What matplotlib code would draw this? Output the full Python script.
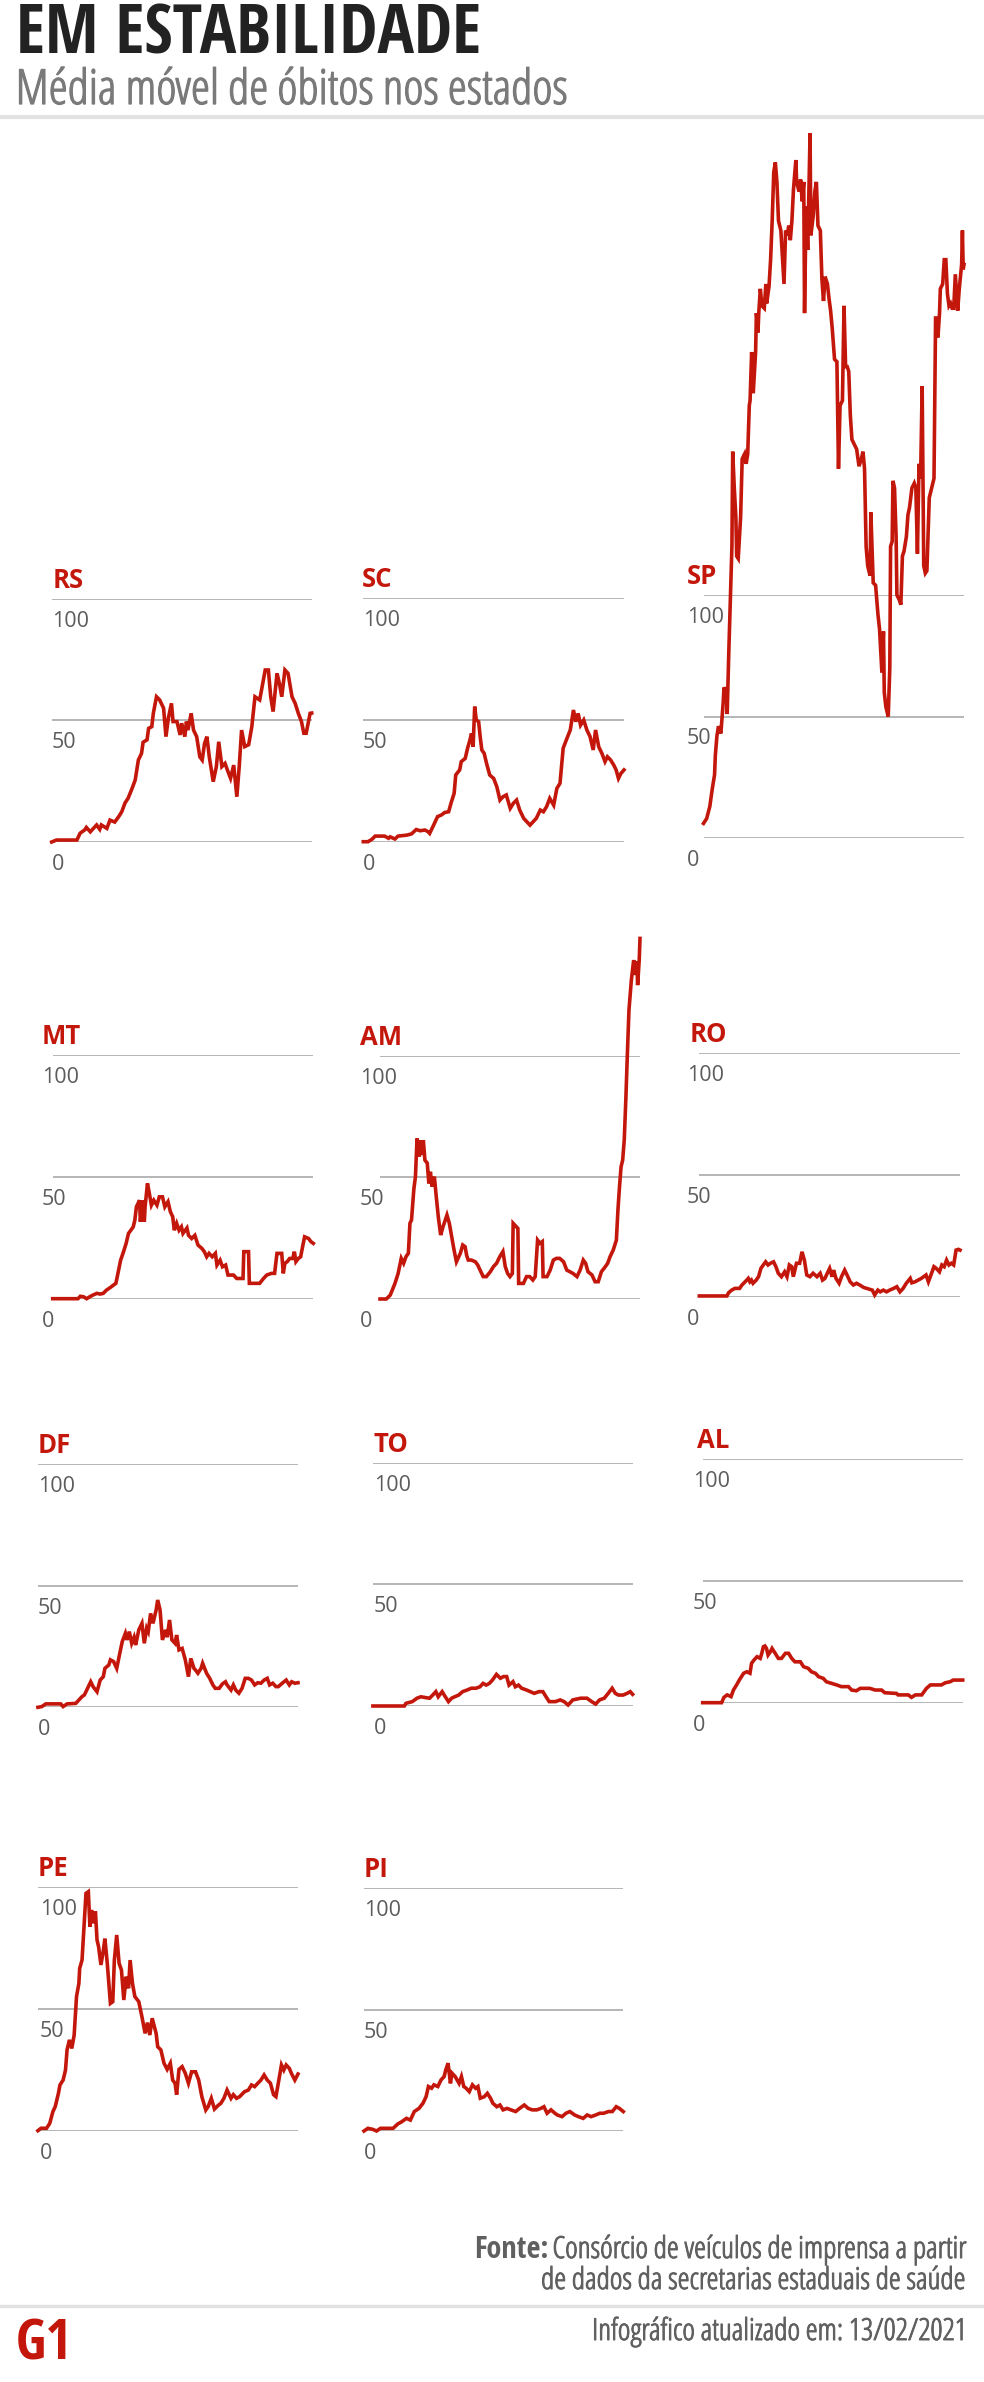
import matplotlib
matplotlib.use("Agg")
import matplotlib.pyplot as plt
import matplotlib.font_manager as fm
import matplotlib.patheffects as pe
from matplotlib.textpath import TextPath

# moving average of deaths (day 0 ~ mid March 2020, day 330 = 13/02/2021)
rs_days = [0, 6, 32, 36, 42, 44, 49, 57, 61, 63, 70, 74, 80, 85, 89, 93, 97, 102, 106, 110, 114, 116,
           121, 123, 127, 129, 133, 137, 142, 145, 148, 152, 154, 159, 163, 165, 169, 171, 173, 177,
           180, 184, 188, 191, 194, 197, 200, 205, 209, 212, 216, 220, 223, 227, 231, 235, 238, 241,
           245, 250, 254, 258, 264, 271, 275, 278, 281, 286, 289, 292, 296, 300, 305, 309, 313, 317,
           320, 323, 328, 330]
rs_vals = [0, 0.8, 0.8, 3.6, 5, 6, 4.2, 7, 5.2, 7, 5.6, 9, 8.2, 10.4, 12.5, 16, 18, 22, 25.5, 33.7,
           36.4, 41, 42, 46.7, 47.4, 52.9, 59.7, 58.4, 55, 43.3, 50.8, 57, 49.5, 49.5, 44, 48.8, 43.3,
           49.5, 46, 52.9, 46, 43.3, 35, 33.7, 40.5, 43.3, 35, 24.8, 31, 41.2, 31, 32.3, 29.6, 26.2,
           31.6, 18.6, 31, 46, 39.2, 40, 47.4, 59.7, 58.4, 70.7, 70.7, 59.7, 53.6, 69.3, 65.2, 59.7,
           70.7, 69.3, 59.7, 57, 52.9, 49.5, 44.7, 44.7, 52.9, 53]

sc_days = [0, 6, 11, 15, 27, 32, 34, 40, 44, 55, 61, 67, 72, 78, 82, 84, 89, 94, 99, 103, 108, 111,
           115, 117, 122, 124, 129, 132, 135, 137, 139, 141, 143, 146, 148, 150, 153, 156, 160, 165,
           169, 173, 177, 181, 186, 190, 194, 198, 203, 207, 211, 215, 219, 224, 228, 232, 236, 241,
           245, 249, 253, 257, 262, 266, 269, 272, 275, 279, 283, 287, 291, 294, 298, 302, 306, 309,
           313, 317, 320, 323, 326, 330]
sc_vals = [0, 0, 1, 2.3, 2.3, 1.4, 2, 1.1, 2.3, 2.7, 3.2, 5, 4.5, 4.8, 4.1, 3.4, 6.8, 10.3, 11, 12,
           12.3, 15.8, 19.9, 27.4, 29.5, 32.9, 34.2, 38.4, 41.8, 44.5, 39, 55.5, 50, 49.3, 43, 37.7,
           36.3, 32.2, 27.4, 26, 22.6, 17.1, 18.5, 19.2, 13.7, 15.8, 17.1, 13, 9.6, 8.2, 6.8, 8.2, 9.6,
           13, 12.3, 14.4, 17.8, 15, 21.9, 24, 38.4, 41.8, 45.9, 54.1, 49.3, 52.7, 47.9, 50, 45.9,
           43.2, 37.7, 45.9, 39, 36.3, 32.9, 34.9, 33.6, 31.5, 29.5, 26, 28, 29.5]

sp_days = [0, 4, 8, 11, 14, 15, 17, 19, 22, 25, 26, 29, 30, 32, 34, 36, 37, 39, 41, 42, 44, 47, 49,
           52, 54, 56, 58, 59, 61, 63, 66, 67, 69, 70, 72, 74, 77, 79, 80, 83, 85, 87, 89, 91, 93,
           95, 98, 102, 104, 106, 108, 110, 112, 114, 117, 118, 121, 123, 125, 127, 128, 130, 132,
           135, 136, 139, 141, 143, 145, 148, 150, 152, 154, 157, 159, 161, 163, 166, 169, 171, 173,
           176, 178, 180, 182, 184, 186, 188, 191, 194, 197, 200, 202, 204, 206, 208, 211, 212, 215,
           218, 221, 223, 226, 228, 229, 231, 234, 236, 237, 239, 240, 242, 244, 245, 248, 250, 252,
           254, 257, 259, 261, 264, 267, 269, 271, 273, 275, 277, 279, 281, 283, 286, 289, 292, 294,
           296, 297, 299, 300, 303, 305, 307, 309, 311, 313, 315, 317, 319, 322, 324, 327, 328, 329,
           330]
sp_vals = [6, 8, 13, 20, 26, 34, 42, 46, 43, 56, 62, 60, 51, 76, 98, 120, 159, 144, 132, 116, 115,
           132, 156, 158, 154, 158, 178, 180, 200, 183, 200, 216, 208, 216, 226, 219, 218, 228, 220,
           227, 238, 254, 274, 278, 270, 254, 250, 228, 250, 248, 252, 246, 254, 267, 279, 270, 266,
           271, 262, 270, 216, 260, 242, 290, 248, 256, 266, 270, 252, 250, 230, 221, 231, 228, 222,
           217, 210, 197, 196, 152, 178, 180, 219, 194, 194, 192, 174, 164, 162, 160, 153, 156, 159,
           152, 120, 112, 108, 134, 105, 104, 92, 86, 68, 85, 60, 54, 50, 70, 120, 122, 147, 144, 124,
           100, 98, 96, 116, 118, 124, 133, 136, 144, 146, 144, 117, 154, 148, 186, 112, 109, 110,
           140, 144, 148, 214, 214, 206, 216, 226, 228, 238, 238, 224, 219, 220, 218, 218, 232, 217,
           226, 236, 250, 234, 236]

mt_days = [0, 32, 35, 39, 43, 47, 51, 56, 60, 64, 68, 73, 77, 80, 83, 86, 89, 93, 96, 99, 102, 104,
           106, 110, 111, 114, 116, 117, 120, 122, 125, 128, 132, 135, 139, 142, 146, 149, 152, 154,
           157, 160, 163, 165, 170, 172, 176, 180, 184, 189, 192, 195, 198, 202, 206, 208, 212, 215,
           219, 222, 229, 233, 241, 242, 248, 249, 262, 267, 271, 277, 281, 284, 286, 290, 292, 294,
           297, 300, 304, 306, 308, 311, 314, 316, 319, 324, 327, 330]
mt_vals = [0, 0, 1, 0.8, 0, 0.8, 1.5, 2.2, 1.9, 2.2, 3.5, 4.6, 5.6, 6.3, 11, 15.8, 18.6, 22.7, 26.8,
           28.1, 29.5, 32.2, 37.7, 40.4, 31.6, 40.4, 31.6, 37.7, 47.3, 43.9, 38.4, 40.4, 38.4, 41.8,
           41.8, 37.7, 39.8, 35.7, 33.6, 28.1, 30.9, 28.1, 29.5, 26.8, 29, 26, 24.7, 26, 22, 20.6,
           19.3, 17.2, 18.6, 17.2, 18.6, 13.8, 15.8, 13.1, 13.8, 9.7, 9.7, 8.3, 8.3, 19.3, 19.3, 6.3,
           6.3, 8.3, 9.7, 10.4, 10.4, 18.6, 18.6, 18.6, 10.4, 14.5, 15.2, 16.5, 16.5, 19.3, 15.2,
           16.5, 17.2, 20.6, 25.4, 24.7, 23.4, 22.7]

am_days = [0, 8, 13, 19, 23, 27, 30, 33, 36, 38, 40, 43, 45, 47, 50, 52, 53, 55, 57, 60, 62, 64, 66,
           69, 71, 74, 77, 80, 85, 88, 91, 94, 97, 99, 102, 105, 108, 110, 112, 116, 121, 124, 127,
           131, 135, 140, 144, 148, 152, 156, 159, 162, 165, 168, 169, 171, 175, 176, 182, 186, 190,
           194, 197, 200, 203, 206, 207, 212, 216, 220, 224, 228, 233, 237, 241, 245, 250, 254, 258,
           261, 264, 269, 273, 277, 281, 286, 289, 292, 296, 300, 302, 304, 306, 308, 310, 312, 314,
           316, 319, 321, 322, 324, 326, 327, 329, 330]
am_vals = [0, 0, 1.6, 6.4, 10.5, 16.7, 14.7, 17.4, 18.8, 31.1, 32.5, 45.3, 50.3, 66, 58.5, 65.3,
           59.2, 65.3, 57.1, 55.8, 47.5, 52.3, 46.2, 50.3, 43.4, 33.8, 26.3, 29.7, 34.5, 31.1, 25.6,
           20.1, 15.3, 16.7, 18.8, 22.2, 21.5, 17.9, 16, 16, 15.3, 14, 11.9, 9.2, 9.2, 11.2, 13.3,
           14.7, 17.4, 19.5, 13.3, 10.5, 9.2, 10.5, 31.1, 30.4, 29, 6.4, 6.4, 9.2, 9.2, 7.8, 9.2,
           24.2, 22.9, 23.6, 9.2, 9.2, 11.9, 16, 16.7, 16.7, 15.3, 11.9, 11.2, 10.5, 9.2, 11.9, 16,
           14.7, 11.2, 9.9, 7.1, 7.1, 11.2, 13.3, 14.7, 17.4, 20.1, 24.2, 36.6, 46.2, 54.4, 57.1,
           65.3, 81.8, 101, 118.8, 131, 136.6, 139.3, 133.2, 138.8, 129, 139.3, 148.2]

ro_days = [0, 35, 37, 41, 45, 51, 54, 58, 62, 64, 66, 68, 72, 75, 78, 81, 84, 87, 90, 94, 97, 100,
           104, 108, 111, 114, 117, 119, 123, 127, 130, 133, 136, 140, 144, 149, 153, 156, 159, 162,
           165, 168, 170, 173, 177, 180, 184, 187, 191, 195, 199, 203, 208, 212, 216, 219, 222, 226,
           229, 233, 237, 241, 246, 250, 254, 258, 262, 267, 269, 273, 277, 281, 284, 287, 290, 294,
           297, 300, 304, 307, 310, 313, 316, 319, 322, 325, 328, 330]
ro_vals = [0.3, 0.3, 1.6, 2.7, 3.4, 3.4, 4.8, 6.1, 7.5, 6.1, 6.8, 5.5, 6.8, 8.2, 11.6, 13, 14.3, 13,
           13.7, 14.3, 12.3, 9.6, 8.2, 10.2, 8.2, 13, 12.3, 8.2, 13.7, 13.7, 18.4, 15, 8.9, 8.2, 9.6,
           8.2, 9.6, 6.8, 7.5, 9.6, 11.6, 8.2, 10.9, 7.5, 5.5, 8.2, 10.9, 8.9, 6.1, 4.8, 5.5, 4.8,
           3.8, 3.4, 3, 2.7, 0.7, 2.7, 2, 2.7, 2, 2.7, 3.4, 4.1, 2, 3.4, 5.5, 7.5, 5.7, 6.1, 6.8, 7.5,
           8.2, 8.9, 6.1, 9.6, 12.3, 11.6, 10.2, 13, 12.3, 15, 13, 13.7, 13, 19.1, 19.4, 19.1]

df_days = [0, 5, 10, 29, 32, 37, 48, 52, 56, 59, 62, 67, 70, 75, 79, 83, 85, 90, 92, 96, 100, 103,
           107, 111, 113, 116, 119, 122, 124, 128, 132, 135, 138, 140, 143, 146, 150, 152, 155, 158,
           162, 164, 167, 170, 174, 176, 179, 183, 187, 191, 194, 198, 200, 203, 207, 209, 214, 218,
           222, 225, 230, 234, 238, 240, 245, 248, 251, 255, 259, 263, 267, 271, 275, 279, 283, 287,
           291, 294, 298, 302, 305, 310, 315, 319, 322, 326, 330]
df_vals = [0, 0.3, 1.4, 1.4, 0.3, 1.4, 1.6, 3, 4.4, 5.1, 7.1, 10.5, 8.5, 6.4, 11.2, 12.6, 16, 17.4,
           19.5, 18.8, 16, 20.8, 27, 30.4, 27.7, 31.1, 26.3, 28.8, 25.6, 31.8, 34.5, 26.3, 32.5, 31.1,
           38.6, 34.5, 40, 44.1, 40, 27.7, 31.8, 28.8, 35.9, 27.7, 26.3, 29.7, 23.6, 24.2, 19.5, 12.6,
           20.1, 16, 15.3, 14, 16, 18.1, 14, 11.9, 9.2, 7.8, 7.8, 9.6, 10.5, 9.2, 7.1, 9.2, 7.1, 5.8,
           7.8, 11.9, 11.9, 11.2, 9.2, 10.1, 9.9, 11.2, 11.9, 9.2, 9.9, 8.5, 8.5, 9.9, 11.2, 9.2,
           10.5, 9.9, 10.1]

to_days = [0, 40, 42, 50, 56, 61, 66, 72, 76, 80, 83, 88, 92, 96, 100, 104, 109, 114, 120, 125, 131,
           136, 140, 144, 148, 152, 157, 162, 166, 170, 173, 178, 181, 185, 189, 195, 200, 205, 211,
           216, 220, 224, 232, 238, 243, 248, 254, 264, 272, 278, 283, 288, 294, 299, 304, 308, 312,
           318, 323, 327, 330]
to_vals = [0, 0, 1.1, 1.8, 3.2, 3.8, 3.5, 3.2, 4.5, 5.9, 3.8, 5.9, 3.8, 1.8, 3.2, 3.8, 4.5, 5.9, 6.6,
           7.3, 7.3, 7.9, 9.3, 8.6, 9.3, 10.7, 13, 11.4, 12.1, 12.1, 8.6, 10, 7.9, 8.6, 7.3, 6.6, 5.9,
           5.2, 5.9, 5.9, 3.8, 1.8, 1.8, 2.5, 1.8, 0.4, 2.5, 3.2, 3.2, 1.8, 0.8, 2.5, 3.2, 5.2, 7.3,
           5.2, 4.5, 4.5, 5.2, 5.9, 4.8]

al_days = [0, 24, 27, 31, 36, 39, 43, 47, 52, 56, 60, 62, 65, 69, 73, 75, 77, 79, 81, 83, 86, 88,
           92, 96, 100, 105, 109, 113, 117, 124, 128, 134, 138, 143, 147, 153, 157, 164, 170, 176,
           185, 189, 195, 200, 212, 219, 227, 231, 246, 248, 261, 265, 270, 278, 280, 284, 289, 303,
           308, 314, 318, 330]
al_vals = [0, 0, 2.2, 3.2, 2.5, 5.2, 7.3, 9.6, 12.1, 12.7, 12.1, 16.2, 17.5, 18.9, 18.2, 20.3, 23,
           23.3, 22.3, 19.6, 21, 22.3, 20.3, 18.2, 18.2, 20.3, 20.3, 18.2, 16.8, 16.8, 14.8, 14.1,
           12.7, 12.1, 10.7, 10, 8.6, 7.9, 7.3, 6.6, 6.6, 5.2, 4.9, 5.9, 5.9, 5.2, 5.2, 4.1, 3.8,
           3.2, 3.2, 2.2, 3.2, 3.2, 4.1, 5.9, 7.3, 7.3, 8.2, 8.6, 9.3, 9.3]

pe_days = [0, 4, 11, 15, 19, 22, 26, 28, 32, 35, 37, 40, 43, 46, 49, 52, 53, 56, 59, 61, 64, 66, 68,
           70, 73, 75, 77, 80, 83, 85, 88, 92, 95, 97, 100, 103, 106, 109, 112, 115, 117, 120, 123,
           128, 132, 136, 139, 142, 145, 150, 152, 156, 160, 164, 168, 171, 174, 176, 179, 183, 187,
           191, 195, 200, 204, 208, 213, 216, 220, 224, 229, 232, 236, 240, 245, 248, 252, 256, 262,
           267, 271, 275, 279, 283, 287, 291, 295, 299, 302, 305, 309, 312, 315, 319, 322, 326, 330]
pe_vals = [0, 1, 1, 3, 7.8, 9.9, 15.3, 18.8, 20.8, 24.9, 33.2, 37.3, 33.8, 39.3, 55.1, 60.5, 66.7,
           70.1, 86.6, 97.5, 98.2, 83.8, 90.7, 85.2, 90.1, 78.4, 75.6, 68.1, 74, 78.9, 68.8, 52.3, 53,
           70.1, 80.4, 68.8, 66, 53.7, 63.3, 58.5, 70.1, 60.5, 55.1, 53, 46.8, 40, 44.4, 39.3, 46.2,
           40, 34.5, 33.2, 27.7, 25.2, 27.7, 20.8, 19.5, 14.8, 25.2, 26.3, 23.6, 19.5, 24.2, 24.2,
           20.8, 14, 8.5, 9.9, 13.3, 8.9, 10.5, 11.2, 13.3, 16.7, 13.3, 14.8, 13.3, 14, 16, 16.7,
           18.8, 18.1, 19.5, 20.8, 22.9, 20.8, 19.5, 14.8, 14, 19.5, 27, 24.9, 27, 25.6, 23.3, 20.8,
           23.3]

pi_days = [0, 5, 11, 16, 21, 29, 37, 43, 48, 54, 59, 64, 70, 75, 79, 82, 86, 89, 94, 98, 102, 104,
           107, 110, 112, 116, 121, 124, 127, 130, 134, 138, 142, 145, 148, 153, 157, 161, 164, 169,
           173, 177, 182, 187, 193, 198, 204, 209, 214, 220, 225, 229, 233, 238, 243, 246, 252, 257,
           262, 268, 273, 279, 284, 289, 295, 300, 305, 311, 316, 321, 325, 330]
pi_vals = [0, 1.1, 0.7, 0, 1.1, 1.1, 1.1, 2.9, 3.8, 5.2, 4.5, 8, 9.3, 11.4, 14.1, 18.3, 17.6, 19,
           18.3, 21, 22.4, 25.1, 27.9, 19.6, 23.8, 22.4, 19.6, 22.4, 18.3, 17.6, 16.2, 19, 17.6, 18.3,
           13.5, 14.1, 15.5, 13.5, 11.4, 10, 10.7, 8.7, 9.3, 8.7, 8, 9.3, 10.7, 9.3, 8.7, 8.7, 9.3,
           10, 7.3, 8.7, 7.3, 6.6, 5.9, 7.3, 8, 6.6, 5.9, 5.2, 6.6, 5.9, 6.6, 7.3, 7.3, 8, 8, 10, 9.3, 8]

states = ["RS", "SC", "SP", "MT", "AM", "RO", "DF", "TO", "AL", "PE", "PI"]
series = {"RS": (rs_days, rs_vals), "SC": (sc_days, sc_vals), "SP": (sp_days, sp_vals),
          "MT": (mt_days, mt_vals), "AM": (am_days, am_vals), "RO": (ro_days, ro_vals),
          "DF": (df_days, df_vals), "TO": (to_days, to_vals), "AL": (al_days, al_vals),
          "PE": (pe_days, pe_vals), "PI": (pi_days, pi_vals)}
gridvals = [0, 50, 100]

# layout in pixels: label x, tick x, grid x0, grid x1, y of the 100 line, y of the 0 line
layout = {
    "RS": (53, 52, 51.7, 311.7, 598.7, 842),
    "SC": (362, 363, 363.3, 624, 598.3, 841.7),
    "SP": (686.7, 686.7, 703.5, 964, 595, 838),
    "MT": (41.7, 41.7, 52.7, 313.3, 1055, 1298.7),
    "AM": (360, 360, 380, 640, 1055.7, 1299),
    "RO": (690, 686.7, 699.3, 960, 1052.7, 1296.7),
    "DF": (37.9, 37.9, 37.9, 298, 1464, 1707.3),
    "TO": (373.7, 373.7, 372.9, 632.6, 1462.7, 1706),
    "AL": (696.7, 692.7, 702.7, 962.7, 1459.3, 1702.7),
    "PE": (37.9, 40, 37.9, 298, 1887.3, 2130.7),
    "PI": (364, 364, 364, 623.3, 1888, 2131),
}

W, H = 984, 2382
RED = "#c4170c"
GRID = "#b0b0b0"
TICKC = "#5c5c5c"

WEIGHTS = {"ultralight": 200, "light": 300, "normal": 400, "regular": 400, "book": 400,
           "medium": 500, "semibold": 600, "demibold": 600, "bold": 700, "heavy": 800,
           "extra bold": 800, "black": 900}


def narrow_face(bold):
    """Look for a condensed / narrow face of the wanted weight, return FontProperties."""
    found = []
    for f in fm.fontManager.ttflist:
        narrow = ("Condensed" in f.name or "Narrow" in f.name
                  or str(f.stretch) in ("condensed", "semi-condensed", "extra-condensed"))
        if not narrow or f.style != "normal":
            continue
        w = f.weight if isinstance(f.weight, int) else WEIGHTS.get(str(f.weight), 400)
        if bold and w < 600:
            continue
        if not bold and w > 450:
            continue
        rank = 0 if "Open Sans" in f.name else 1
        found.append((rank, abs(w - (700 if bold else 400)), f.fname))
    if found:
        found.sort()
        return fm.FontProperties(fname=found[0][2])
    return fm.FontProperties(family="Open Sans", weight="bold" if bold else "normal")


NARROW_B = narrow_face(True)
NARROW_R = narrow_face(False)

fig = plt.figure(figsize=(W / 100, H / 100), dpi=100)
fig.patch.set_facecolor("white")
renderer = fig.canvas.get_renderer()


def fx(x):
    return x / W


def fy(y):
    return 1 - y / H


def size_for_width(t, width_px):
    w = t.get_window_extent(renderer).width
    return t.get_fontsize() * width_px / w


def size_for_cap(fp, cap_px):
    # cap height of "H" per point of font size, measured on the glyph outline
    frac = TextPath((0, 0), "H", prop=fp, size=100).get_extents().height / 100
    return cap_px * 0.72 / frac


def fit_both(t, width_px, cap_px, k=0.7):
    # compromise between matching the reference width (weight k) and its letter height
    s_w = size_for_width(t, width_px)
    s_c = size_for_cap(t.get_fontproperties(), cap_px)
    t.set_fontsize(s_w ** k * s_c ** (1 - k))
    return t


def thicker(color, lw=0.7):
    # light condensed face is thinner than the reference, give it a bit of body
    return [pe.withStroke(linewidth=lw, foreground=color)]


# header
title = fig.text(fx(15.7), fy(54), "EM ESTABILIDADE", fontproperties=NARROW_B.copy(),
                 color="#222222", va="baseline", ha="left")
title.set_fontsize(38)
title.set_fontsize(size_for_width(title, 467))
SUBC = "#7a7a7a"
sub = fig.text(fx(15.7), fy(104), "Média móvel de óbitos nos estados",
               fontproperties=NARROW_R.copy(), color=SUBC, va="baseline", ha="left",
               path_effects=thicker(SUBC, 0.9))
sub.set_fontsize(25)
fit_both(sub, 637, 25)
fig.add_artist(plt.Line2D([0, 1], [fy(116.7)] * 2, color="#e2e2e2", lw=3, transform=fig.transFigure))

# panels
for st in states:
    lab_x, tick_x, x0, x1, y100, y0 = layout[st]
    ax = fig.add_axes([fx(x0), fy(y0), (x1 - x0) / W, (y0 - y100) / H])
    ax.set_xlim(0, 330)
    ax.set_ylim(0, 100)
    ax.axis("off")
    for g in gridvals:
        ax.axhline(g, color=GRID, lw=1.3, zorder=1)
        fig.text(fx(tick_x), fy(y0 - (y0 - y100) * g / 100 + 28), str(g), fontsize=15.5,
                 family="Open Sans", color=TICKC, va="baseline", ha="left")
    fig.text(fx(lab_x), fy(y100 - 11), st, fontsize=18.5, family="Open Sans", fontweight="bold",
             color=RED, va="baseline", ha="left")
    d, v = series[st]
    ax.plot(d, v, color=RED, lw=2.6, clip_on=False, zorder=3, solid_joinstyle="miter")

# footer
FOOTC = "#606060"
l2 = fig.text(fx(966.7), fy(2289), "de dados da secretarias estaduais de saúde",
              fontproperties=NARROW_R.copy(), color=FOOTC, va="baseline", ha="right",
              path_effects=thicker(FOOTC))
l2.set_fontsize(17)
fit_both(l2, 490, 16.7, k=0.65)
fs = l2.get_fontsize()
l1 = fig.text(fx(966.7), fy(2258), "Consórcio de veículos de imprensa a partir",
              fontproperties=NARROW_R.copy(), color=FOOTC, va="baseline", ha="right",
              path_effects=thicker(FOOTC))
l1.set_fontsize(fs)
w1 = l1.get_window_extent(renderer).width
fonte = fig.text(fx(966.7 - w1 - 4), fy(2258), "Fonte:", fontproperties=NARROW_B.copy(),
                 color=FOOTC, va="baseline", ha="right")
fonte.set_fontsize(fs)
fig.add_artist(plt.Line2D([0, 1], [fy(2305.7)] * 2, color="#e2e2e2", lw=2.5, transform=fig.transFigure))
upd = fig.text(fx(966.7), fy(2340), "Infográfico atualizado em: 13/02/2021",
               fontproperties=NARROW_R.copy(), color=FOOTC, va="baseline", ha="right",
               path_effects=thicker(FOOTC))
upd.set_fontsize(fs)
logo = fig.text(fx(15.7), fy(2360), "G1", fontproperties=NARROW_B.copy(), color=RED,
                va="baseline", ha="left")
logo.set_fontsize(34)
logo.set_fontsize(size_for_width(logo, 56))

fig.savefig("out.png", dpi=100, facecolor="white")
